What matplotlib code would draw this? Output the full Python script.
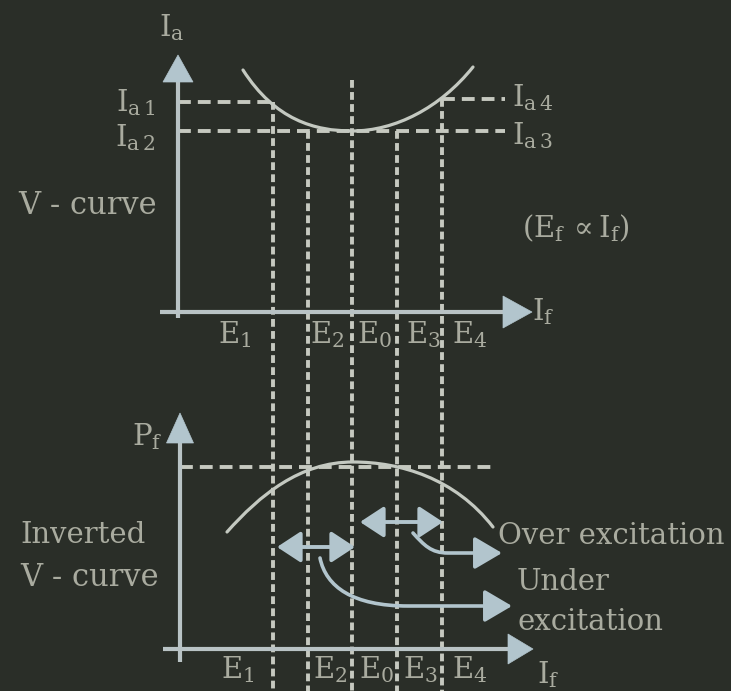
import matplotlib
matplotlib.use("Agg")
import numpy as np
import matplotlib.pyplot as plt
from matplotlib.path import Path
from matplotlib.patches import PathPatch, FancyArrowPatch, Polygon, ArrowStyle

plt.rcParams["mathtext.fontset"] = "dejavuserif"
plt.rcParams["font.family"] = ["DejaVu Serif"]

# ---------------- data (field current If on x, 1 unit = 10 px) ----------------
E_names = ["E_1", "E_2", "E_0", "E_3", "E_4"]
E_pos = [9.5, 13.0, 17.4, 21.9, 26.4]

# armature-current levels read on the V-curve
Ia1, Ia2, Ia3, Ia4 = 21.0, 18.1, 18.1, 21.3
Ia_E0 = 23.2
E_guide_start = [Ia1, Ia2, Ia_E0, Ia3, Ia4]

# V-curve (If, Ia) as two cubic Bezier segments
v_If = [6.5, 9.7, 13.7, 17.4, 21.7, 26.2, 29.5]
v_Ia = [24.2, 19.2, 18.1, 18.1, 18.1, 20.4, 24.5]

# inverted V-curve (If, Pf) as two cubic Bezier segments
inv_If = [4.9, 8.2, 12.2, 17.5, 22.2, 27.7, 31.5]
inv_Pf = [11.7, 15.4, 18.7, 18.7, 18.7, 17.1, 12.2]
Pf_max = 18.2

# excitation ranges shown as double arrows
under_span = [9.9, 17.7]
under_level = 10.2
over_span = [18.2, 26.5]
over_level = 12.7

# pointer arrows from the ranges to their captions
under_ptr_x = [14.2, 14.8, 17.5, 23.0, 33.4]
under_ptr_y = [9.1, 6.2, 4.3, 4.3, 4.3]
over_ptr_x = [23.5, 24.6, 25.3, 27.0, 32.4]
over_ptr_y = [11.6, 10.4, 9.6, 9.6, 9.6]

# ---------------- style ----------------
BG = "#2a2e28"
AXIS = "#b9c3c5"
HEAD = "#b2c5cd"
CURVE = "#c4c9c1"
GUIDE = "#c6c9c0"
TEXT = "#a9ab9f"
FS = 21

W, H = 731, 691
fig = plt.figure(figsize=(W / 100, H / 100), dpi=100, facecolor=BG)
top = fig.add_axes([0, 346 / H, 1, 345 / H])
bot = fig.add_axes([0, 0, 1, 346 / H])
top.set_xlim(-17.8, 55.3)
top.set_ylim(-3.3, 31.2)
bot.set_xlim(-17.8, 55.3)
bot.set_ylim(-4.2, 30.4)
for ax in (top, bot):
    ax.set_facecolor("none")
    ax.axis("off")

GUIDE_LW = 2.8
V_DASH = (0, (2.0, 1.1))
H_DASH = (0, (3.3, 1.8))


def axis_arrow(ax, x0, y0, x1, y1, hl, hw):
    d = np.array([x1 - x0, y1 - y0], float)
    u = d / np.hypot(*d)
    p = np.array([-u[1], u[0]])
    b = np.array([x1, y1]) - u * hl
    ax.plot([x0, b[0]], [y0, b[1]], color=AXIS, lw=3, solid_capstyle="butt", zorder=4)
    ax.add_patch(Polygon([[x1, y1], b + p * hw, b - p * hw], closed=True,
                         fc=HEAD, ec=HEAD, lw=0.5, zorder=5))


def bezier_curve(ax, xs, ys):
    verts = list(zip(xs, ys))
    codes = [Path.MOVETO] + [Path.CURVE4] * (len(verts) - 1)
    ax.add_patch(PathPatch(Path(verts, codes), fc="none", ec=CURVE, lw=2.3,
                           capstyle="round", zorder=3))


def label(ax, x, y, s, ha="left", va="center", size=FS):
    ax.text(x, y, s, ha=ha, va=va, color=TEXT, fontsize=size, zorder=6)


# ---------------- top panel: V-curve ----------------
# vertical guides run from their level on the curve through both panels
for e, y0 in zip(E_pos, E_guide_start):
    top.plot([e, e], [y0, -37.9], color=GUIDE, lw=GUIDE_LW, ls=V_DASH,
             dash_capstyle="butt", clip_on=False, zorder=1)

top.plot([0, E_pos[0]], [Ia1, Ia1], color=GUIDE, lw=GUIDE_LW, ls=H_DASH,
         dash_capstyle="butt", zorder=1)
top.plot([0, 32.7], [Ia2, Ia3], color=GUIDE, lw=GUIDE_LW, ls=H_DASH,
         dash_capstyle="butt", zorder=1)
top.plot([E_pos[4], 32.7], [Ia4, Ia4], color=GUIDE, lw=GUIDE_LW, ls=H_DASH,
         dash_capstyle="butt", zorder=1)

bezier_curve(top, v_If, v_Ia)

axis_arrow(top, 0, -0.6, 0, 25.7, 2.7, 1.5)
axis_arrow(top, -1.8, 0, 35.4, 0, 2.9, 1.6)

label(top, -0.6, 28.4, r"$\mathregular{I_a}$", ha="center")
label(top, -2.3, 20.9, r"$\mathregular{I_{a\,1}}$", ha="right")
label(top, -2.3, 17.4, r"$\mathregular{I_{a\,2}}$", ha="right")
label(top, 33.4, 21.4, r"$\mathregular{I_{a\,4}}$")
label(top, 33.4, 17.6, r"$\mathregular{I_{a\,3}}$")
label(top, -16.0, 10.7, "V - curve", size=22)
label(top, 34.4, 8.4, r"$\mathregular{(E_f\,\propto I_f)}$")
label(top, 35.4, 0.0, r"$\mathregular{I_f}$")

top_label_x = [5.7, 14.9, 19.7, 24.5, 29.2]
for name, x in zip(E_names, top_label_x):
    label(top, x, -2.3, r"$\mathregular{%s}$" % name, ha="center")

# ---------------- bottom panel: inverted V-curve ----------------
bot.plot([0.2, 31.4], [Pf_max, Pf_max], color=GUIDE, lw=GUIDE_LW, ls=H_DASH,
         dash_capstyle="butt", zorder=1)

bezier_curve(bot, inv_If, inv_Pf)

axis_arrow(bot, 0.2, -1.3, 0.2, 23.6, 3.0, 1.35)
axis_arrow(bot, -1.5, 0, 35.5, 0, 2.5, 1.5)

double = ArrowStyle("<|-|>", head_length=14.5, head_width=9.5)
for span, lev in ((under_span, under_level), (over_span, over_level)):
    bot.add_patch(FancyArrowPatch((span[0], lev), (span[1], lev), arrowstyle=double,
                                  mutation_scale=1, color=HEAD, lw=2.8,
                                  shrinkA=0, shrinkB=0, zorder=4))

single = ArrowStyle("-|>", head_length=17, head_width=10)
for xs, ys in ((under_ptr_x, under_ptr_y), (over_ptr_x, over_ptr_y)):
    verts = list(zip(xs, ys))
    codes = [Path.MOVETO, Path.CURVE4, Path.CURVE4, Path.CURVE4, Path.LINETO]
    bot.add_patch(FancyArrowPatch(path=Path(verts, codes), arrowstyle=single,
                                  mutation_scale=1, color=HEAD, lw=2.6, zorder=4))

label(bot, -1.5, 21.2, r"$\mathregular{P_f}$", ha="right")
label(bot, -15.8, 11.4, "Inverted")
label(bot, -15.8, 7.2, "V - curve", size=22)
label(bot, 32.0, 11.3, "Over excitation")
label(bot, 33.9, 6.7, "Under")
label(bot, 33.9, 2.7, "excitation")
label(bot, 35.9, -4.05, r"$\mathregular{I_f}$", va="bottom")

bot_label_x = [6.0, 15.2, 19.9, 24.2, 29.2]
for name, x in zip(E_names, bot_label_x):
    label(bot, x, -2.1, r"$\mathregular{%s}$" % name, ha="center")

fig.savefig("out.png", dpi=100, facecolor=BG)
